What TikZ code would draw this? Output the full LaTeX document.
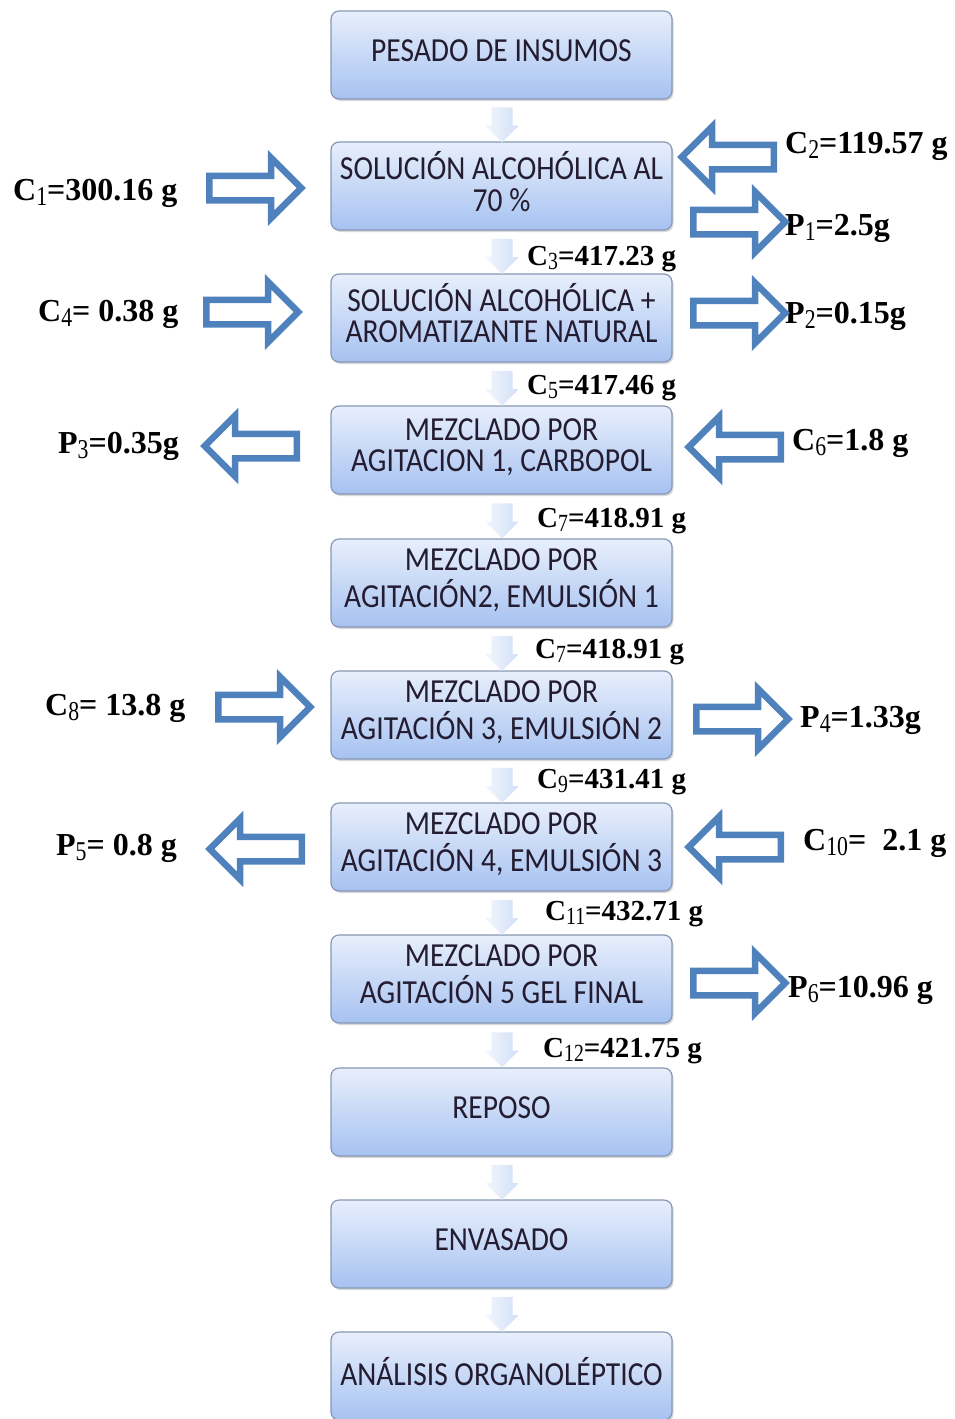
\documentclass[tikz,border=0pt]{standalone}
\usepackage{fontspec}
\setmainfont{Liberation Serif}
\newfontfamily\boxfont{Carlito}
\usetikzlibrary{shapes.arrows,shadows,calc}
\definecolor{arrowblue}{HTML}{4F81BD}
\definecolor{boxtop}{HTML}{E8EFFC}
\definecolor{boxbot}{HTML}{A6C2F1}
\definecolor{boxline}{HTML}{8797B4}
\definecolor{boxtext}{HTML}{241C30}
\definecolor{downtop}{HTML}{F2F6FE}
\definecolor{downbot}{HTML}{D2DFF6}
\newcommand{\sbs}[1]{\raisebox{-0.16em}{\scalebox{0.68}[0.85]{\mdseries #1}}}
\newcommand{\bt}[1]{\scalebox{1}[1.14]{\begin{tabular}{@{}c@{}}#1\end{tabular}}}
\begin{document}
\begin{tikzpicture}[x=1pt,y=-1pt,
  stepbox/.style={rounded corners=8pt, draw=boxline, line width=1.2pt,
    top color=boxtop, bottom color=boxbot, minimum width=341pt, minimum height=88pt,
    inner sep=0pt, text=boxtext, font=\boxfont\fontsize{29.5}{27.2}\selectfont,
    drop shadow={opacity=0.3, shadow xshift=1.5pt, shadow yshift=-2pt}},
  lbl/.style={font=\bfseries\fontsize{32}{32}\selectfont, inner sep=0pt, anchor=base west, text=black},
  flow/.style={lbl, font=\bfseries\fontsize{29}{29}\selectfont},
  barrow/.style={single arrow, draw=arrowblue, fill=white, line width=6.5pt,
    minimum height=92pt, inner xsep=0pt, inner ysep=9pt, single arrow head extend=18pt, anchor=tail},
  rightarr/.style={barrow},
  leftarr/.style={barrow, rotate=180},
  downarr/.style={single arrow, rotate=-90, draw=none, left color=downtop, right color=downbot,
    inner xsep=0pt, inner ysep=10.5pt, single arrow head extend=6pt, minimum height=35pt}
]
\useasboundingbox (0,0) rectangle (954,1419);

% process boxes
\node[stepbox] (b1)  at (501.5,55)   {\bt{PESADO DE INSUMOS}};
\node[stepbox] (b2)  at (501.5,186)  {\bt{SOLUCIÓN ALCOHÓLICA AL\\70 \%}};
\node[stepbox] (b3)  at (501.5,318)  {\bt{SOLUCIÓN ALCOHÓLICA +\\AROMATIZANTE NATURAL}};
\node[stepbox] (b4)  at (501.5,450)  {\bt{MEZCLADO POR\\AGITACION 1, CARBOPOL}};
\node[stepbox] (b5)  at (501.5,583)  {\bt{MEZCLADO POR\\AGITACIÓN2, EMULSIÓN 1}};
\node[stepbox] (b6)  at (501.5,715)  {\bt{MEZCLADO POR\\AGITACIÓN 3, EMULSIÓN 2}};
\node[stepbox] (b7)  at (501.5,847)  {\bt{MEZCLADO POR\\AGITACIÓN 4, EMULSIÓN 3}};
\node[stepbox] (b8)  at (501.5,979)  {\bt{MEZCLADO POR\\AGITACIÓN 5 GEL FINAL}};
\node[stepbox] (b9)  at (501.5,1112) {\bt{REPOSO}};
\node[stepbox] (b10) at (501.5,1244) {\bt{ENVASADO}};
\node[stepbox] (b11) at (501.5,1376) {\bt{ANÁLISIS ORGANOLÉPTICO}};

% down arrows between boxes
\foreach \a/\b [count=\i] in {b1/b2,b2/b3,b3/b4,b4/b5,b5/b6,b6/b7,b7/b8,b8/b9,b9/b10,b10/b11}
  \node[downarr] (d\i) at ($(\a.south)!0.5!(\b.north)+(0.5,-1)$) {};

% side labels
\node[lbl] (c1)  at (13,200)   {C\sbs{1}=300.16 g};
\node[lbl] (c2)  at (785,153)  {C\sbs{2}=119.57 g};
\node[lbl] (p1)  at (785,235)  {P\sbs{1}=2.5g};
\node[lbl] (c4)  at (38,321)   {C\sbs{4}= 0.38 g};
\node[lbl] (p2)  at (785,323)  {P\sbs{2}=0.15g};
\node[lbl] (p3)  at (58,453)   {P\sbs{3}=0.35g};
\node[lbl] (c6)  at (792,450)  {C\sbs{6}=1.8 g};
\node[lbl] (c8)  at (45,715)   {C\sbs{8}= 13.8 g};
\node[lbl] (p4)  at (800,727)  {P\sbs{4}=1.33g};
\node[lbl] (p5)  at (56,855)   {P\sbs{5}= 0.8 g};
\node[lbl] (c10) at (803,850)  {C\sbs{10}=\ \ 2.1 g};
\node[lbl] (p6)  at (788,997)  {P\sbs{6}=10.96 g};

% flow labels below boxes
\node[flow] (c3)  at (527,265)  {C\sbs{3}=417.23 g};
\node[flow] (c5)  at (527,394)  {C\sbs{5}=417.46 g};
\node[flow] (c7a) at (537,527)  {C\sbs{7}=418.91 g};
\node[flow] (c7b) at (535,658)  {C\sbs{7}=418.91 g};
\node[flow] (c9)  at (537,788)  {C\sbs{9}=431.41 g};
\node[flow] (c11) at (545,920)  {C\sbs{11}=432.71 g};
\node[flow] (c12) at (543,1057) {C\sbs{12}=421.75 g};

% block arrows
\node[rightarr] (a1)  at (206,188) {};
\node[rightarr] (a2)  at (203,312) {};
\node[leftarr]  (a3)  at (777,157) {};
\node[rightarr] (a4)  at (690,222) {};
\node[rightarr] (a5)  at (690,313) {};
\node[leftarr]  (a6)  at (300,446) {};
\node[leftarr]  (a7)  at (784,447) {};
\node[rightarr] (a8)  at (215,707) {};
\node[leftarr]  (a9)  at (305,849) {};
\node[rightarr] (a10) at (693,719) {};
\node[leftarr]  (a11) at (784,847) {};
\node[rightarr] (a12) at (690,983) {};
\end{tikzpicture}
\end{document}
